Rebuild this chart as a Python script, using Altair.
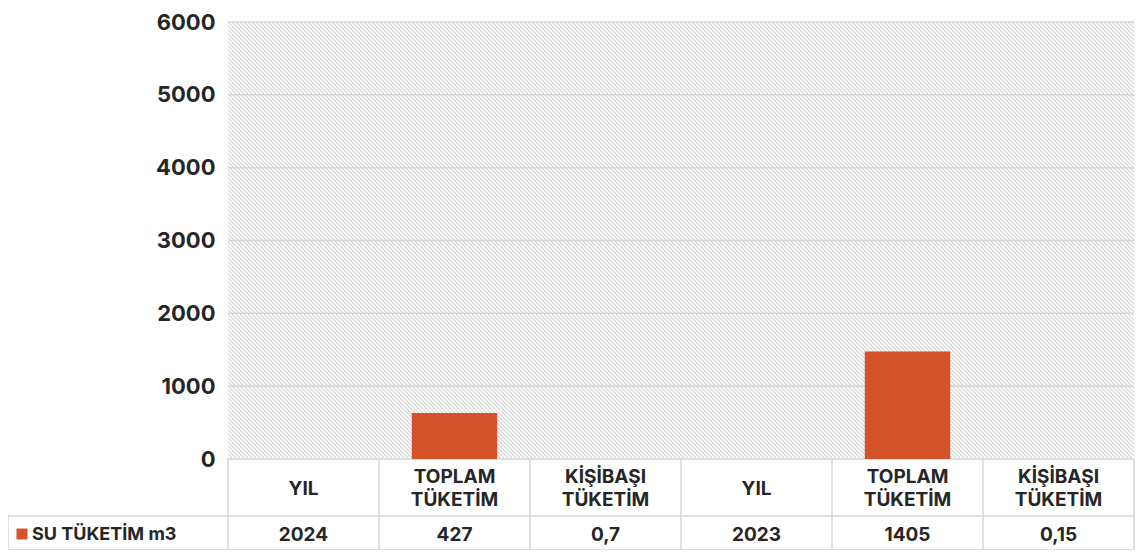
import base64
import altair as alt
import pandas as pd

# ---- data ----
headers = ["YIL", "TOPLAM\nTÜKETİM", "KİŞİBAŞI\nTÜKETİM", "YIL", "TOPLAM\nTÜKETİM", "KİŞİBAŞI\nTÜKETİM"]
table_values = ["2024", "427", "0,7", "2023", "1405", "0,15"]
bar_values = [0, 631, 0, 0, 1477, 0]
y_ticks = [0, 1000, 2000, 3000, 4000, 5000, 6000]
series_name = "SU TÜKETİM m3"

# ---- layout constants ----
W, H = 906, 437
ROW1_BOTTOM = 494
ROW2_BOTTOM = 528
LEFT_EDGE = -220
FONT = "Inter"
TXT = "#262626"
LINE = "#d6d6d6"
BAR = "#D4532A"

keys = [f"{i}" for i in range(len(headers))]
bars_df = pd.DataFrame({"key": keys, "value": bar_values})
grid_df = pd.DataFrame({"v": y_ticks})
cells_df = pd.DataFrame({
    "c": [i + 0.5 for i in range(len(headers))],
    "header": headers,
    "lines": [h.count("\n") + 1 for h in headers],
    "val": table_values,
})
bounds_df = pd.DataFrame({"b": list(range(len(headers) + 1))})
one = pd.DataFrame({"a": [0]})

svg = (
    f"<svg xmlns='http://www.w3.org/2000/svg' width='{W}' height='{H}'>"
    "<defs><pattern id='p' width='4' height='4' patternUnits='userSpaceOnUse'>"
    "<path d='M-1,3 l2,2 M0,0 l4,4 M3,-1 l2,2' stroke='#d0d0d0' stroke-width='1.1'/>"
    "</pattern></defs><rect width='100%' height='100%' fill='white'/>"
    "<rect width='100%' height='100%' fill='url(#p)'/></svg>"
)
uri = "data:image/svg+xml;base64," + base64.b64encode(svg.encode()).decode()

yscale = alt.Scale(domain=[0, 6000], nice=False)
tscale = alt.Scale(domain=[0, len(headers)], nice=False, zero=False)
yaxis = alt.Axis(values=y_ticks, format="d", labelFont=FONT, labelFontSize=22,
                 labelFontWeight="bold", labelColor=TXT, domain=False,
                 ticks=False, grid=False, labelPadding=13, title=None)

hatch = alt.Chart(one).mark_image(
    width=W, height=H, aspect=False, align="left", baseline="top"
).encode(x=alt.value(0), y=alt.value(0), url=alt.value(uri))

grid = alt.Chart(grid_df).mark_rule(color=LINE, strokeWidth=1.5).encode(
    y=alt.Y("v:Q", scale=yscale, axis=yaxis), x=alt.value(0), x2=alt.value(W)
)

bars = alt.Chart(bars_df).mark_bar(color=BAR).encode(
    x=alt.X("key:N", sort=None, axis=None,
            scale=alt.Scale(paddingInner=0.434, paddingOuter=0.217)),
    y=alt.Y("value:Q", scale=yscale, axis=yaxis),
)

vrules = alt.Chart(bounds_df).mark_rule(color=LINE, strokeWidth=1.5).encode(
    x=alt.X("b:Q", scale=tscale, axis=None),
    y=alt.value(H), y2=alt.value(ROW2_BOTTOM),
)
left_rule = alt.Chart(one).mark_rule(color=LINE, strokeWidth=1.5).encode(
    x=alt.value(LEFT_EDGE), y=alt.value(ROW1_BOTTOM), y2=alt.value(ROW2_BOTTOM)
)
h1 = alt.Chart(one).mark_rule(color=LINE, strokeWidth=1.5).encode(
    x=alt.value(LEFT_EDGE), x2=alt.value(W), y=alt.value(ROW1_BOTTOM)
)
h2 = alt.Chart(one).mark_rule(color=LINE, strokeWidth=1.5).encode(
    x=alt.value(LEFT_EDGE), x2=alt.value(W), y=alt.value(ROW2_BOTTOM)
)

row1_mid = (H + ROW1_BOTTOM) / 2
row2_mid = (ROW1_BOTTOM + ROW2_BOTTOM) / 2

head_base = alt.Chart(cells_df).mark_text(
    font=FONT, fontSize=19, fontWeight="bold", color=TXT, lineBreak="\n",
    lineHeight=23, align="center", baseline="middle"
)
head_one = head_base.transform_filter("datum.lines == 1").encode(
    x=alt.X("c:Q", scale=tscale, axis=None), y=alt.value(row1_mid + 1), text="header:N")
head_two = head_base.transform_filter("datum.lines == 2").encode(
    x=alt.X("c:Q", scale=tscale, axis=None), y=alt.value(row1_mid - 10.5), text="header:N")

val_text = alt.Chart(cells_df).mark_text(
    font=FONT, fontSize=19, fontWeight="bold", color=TXT,
    align="center", baseline="middle"
).encode(x=alt.X("c:Q", scale=tscale, axis=None), y=alt.value(row2_mid + 2), text="val:N")

legend_sq = alt.Chart(one).mark_square(color=BAR, size=121, opacity=1).encode(
    x=alt.value(-206), y=alt.value(row2_mid + 1)
)
legend_txt = alt.Chart(pd.DataFrame({"t": [series_name]})).mark_text(
    font=FONT, fontSize=18, fontWeight="bold", color=TXT,
    align="left", baseline="middle"
).encode(x=alt.value(-196), y=alt.value(row2_mid + 2), text="t:N")

chart = alt.layer(
    hatch, grid, bars, vrules, left_rule, h1, h2, head_one, head_two,
    val_text, legend_sq, legend_txt
).resolve_scale(x="independent").properties(
    width=W, height=H,
    autosize=alt.AutoSizeParams(type="none"),
    padding={"left": 220, "top": 14, "right": 2, "bottom": 91},
).configure_view(stroke=None)

chart.save("out.html", embed_options={"renderer": "svg", "actions": False})
